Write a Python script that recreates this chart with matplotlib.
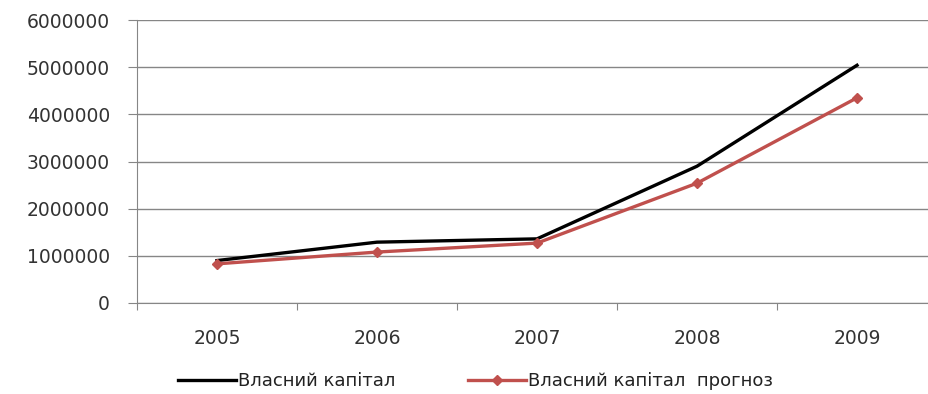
import matplotlib.pyplot as plt

years = ['2005', '2006', '2007', '2008', '2009']
capital = [900000, 1290000, 1360000, 2900000, 5040000]
capital_forecast = [830000, 1080000, 1270000, 2540000, 4350000]

grey = '#868686'

fig = plt.figure(figsize=(9.29, 3.94), dpi=100)
ax = fig.add_axes([137 / 929, 91 / 394, 1 - 137 / 929, 283 / 394])

x = range(len(years))
ax.plot(x, capital, color='black', lw=2.4, label='Власний капітал')
ax.plot(x, capital_forecast, color='#C0504D', lw=2.4, marker='D', ms=5,
        label='Власний капітал  прогноз')

ax.set_xlim(-0.5, 4.45)
ax.set_ylim(0, 6000000)
ax.set_yticks(range(0, 6000001, 1000000))
ax.set_yticklabels([str(v) for v in range(0, 6000001, 1000000)])
ax.set_xticks([i - 0.5 for i in range(len(years))])
ax.set_xticklabels([])
ax.set_xticks(list(x), minor=True)
ax.set_xticklabels(years, minor=True)
ax.tick_params(axis='x', which='minor', length=0, pad=19)
ax.tick_params(axis='x', which='major', length=5, color=grey)
ax.tick_params(axis='y', length=6.5, color=grey, pad=13)
ax.tick_params(which='both', labelsize=13.5, labelcolor='#333333')

ax.grid(axis='y', color=grey, lw=1)
ax.set_axisbelow(True)
for s in ['top', 'right']:
    ax.spines[s].set_visible(False)
for s in ['left', 'bottom']:
    ax.spines[s].set_color(grey)

leg = fig.legend(loc='center', bbox_to_anchor=(0.512, 0.032), ncol=2, frameon=False,
                 fontsize=13, handlelength=3.2, handletextpad=0.15, columnspacing=4)
for t in leg.get_texts():
    t.set_color('#222222')

fig.savefig('out.png', dpi=100)
